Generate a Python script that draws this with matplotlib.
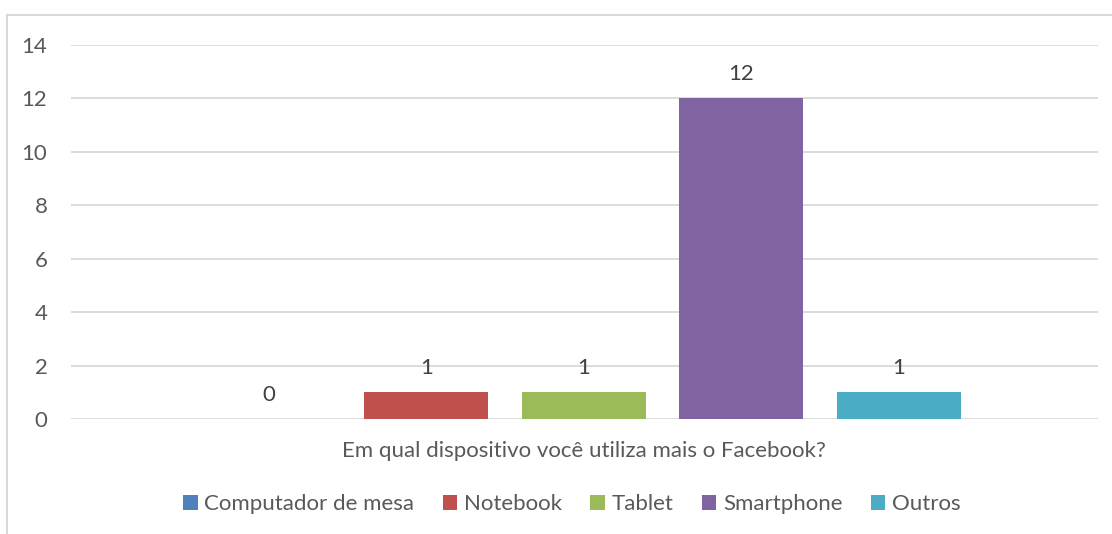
import matplotlib.pyplot as plt
from matplotlib.patches import Patch, Rectangle

categories = ["Computador de mesa", "Notebook", "Tablet", "Smartphone", "Outros"]
values = [0, 1, 1, 12, 1]
colors = ["#4F81BD", "#C0504D", "#9BBB59", "#8064A2", "#4BACC6"]
axis_title = "Em qual dispositivo você utiliza mais o Facebook?"
yticks = [0, 2, 4, 6, 8, 10, 12, 14]

plt.rcParams['font.family'] = ['Lato', 'DejaVu Sans']
text_color = "#595959"
fs = 16

W, H = 1112, 534
fig = plt.figure(figsize=(W / 100, H / 100), dpi=100)
ax = fig.add_axes([71 / W, 1 - 419 / H, (1098 - 71) / W, (419 - 45) / H])

x = list(range(len(categories)))
bars = ax.bar(x, values, width=0.787, color=colors, zorder=3)
for xi, v in zip(x, values):
    ax.text(xi, v + 0.9, str(v), ha="center", va="center", fontsize=fs, color="#404040")

ax.set_xlim(-1.255, 5.265)
ax.set_ylim(0, 14)
ax.set_yticks(yticks)
ax.set_yticklabels([str(t) for t in yticks], fontsize=fs, color=text_color)
ax.tick_params(axis="y", length=0, pad=17)
ax.set_xticks([])
ax.grid(axis="y", color="#d9d9d9", linewidth=1.3, zorder=0)
for s in ax.spines.values():
    s.set_visible(False)

fig.text(584 / W, 1 - 451 / H, axis_title, ha="center", va="center",
         fontsize=fs, color=text_color)

handles = [Patch(facecolor=c, edgecolor="none") for c in colors]
fig.legend(handles, categories, loc="center", bbox_to_anchor=(572 / W, 1 - 504 / H),
           ncol=5, frameon=False, fontsize=fs, labelcolor=text_color,
           handlelength=0.65, handleheight=0.65, handletextpad=0.3, columnspacing=1.28)

# chart border (cropped Excel frame)
fig.patches.append(Rectangle((7 / W, -0.1), 1.2, 1 - 15 / H + 0.1, transform=fig.transFigure,
                             fill=False, edgecolor="#d9d9d9", linewidth=1.5))

fig.savefig("out.png", dpi=100)
